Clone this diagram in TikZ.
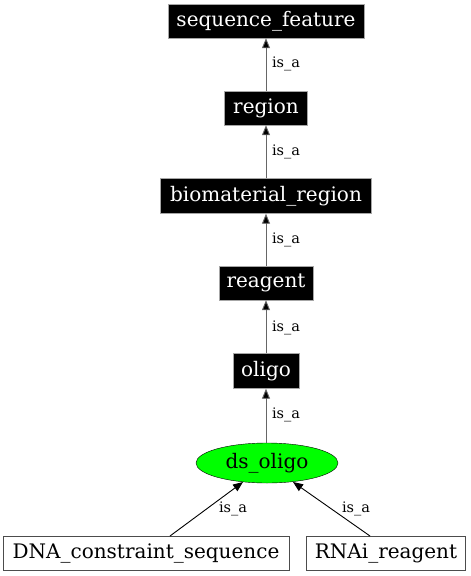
\documentclass[tikz,border=0pt]{standalone}
\usepackage{fontspec}
\setmainfont{DejaVu Serif}
\usetikzlibrary{shapes.geometric,arrows.meta}
\begin{document}
\begin{tikzpicture}[x=1pt,y=-1pt,
  term/.style={draw=gray!70,fill=black,text=white,rectangle,inner sep=0pt,font=\fontsize{20}{22}\selectfont},
  plain/.style={draw=black!70,fill=white,rectangle,inner sep=0pt,font=\fontsize{20}{22}\selectfont},
  focus/.style={draw=black,fill=green,ellipse,inner sep=0pt,minimum width=142pt,minimum height=40pt,font=\fontsize{20}{22}\selectfont},
  isa/.style={draw=black!60,line width=0.9pt,-{Triangle[length=10pt,width=8pt,fill=black]}},
  lbl/.style={font=\fontsize{14.5}{16}\selectfont,inner sep=0pt}]
\useasboundingbox (0,0) rectangle (471,576);
\node[term,minimum width=196pt,minimum height=34pt] (sf) at (266,21) {sequence\_feature};
\node[term,minimum width=83pt,minimum height=34pt] (rg) at (266,108) {region};
\node[term,minimum width=211pt,minimum height=35pt] (br) at (266,196) {biomaterial\_region};
\node[term,minimum width=94pt,minimum height=34pt] (re) at (266,283) {reagent};
\node[term,minimum width=66pt,minimum height=35pt] (ol) at (266,371) {oligo};
\node[focus] (ds) at (267,463) {ds\_oligo};
\node[plain,minimum width=286pt,minimum height=34pt] (dna) at (146,553) {DNA\_constraint\_sequence};
\node[plain,minimum width=159pt,minimum height=34pt] (rna) at (386,553) {RNAi\_reagent};
\draw[isa] (rg.north) -- (sf.south);
\draw[isa] (br.north) -- (rg.south);
\draw[isa] (re.north) -- (br.south);
\draw[isa] (ol.north) -- (re.south);
\draw[isa] (ds.north -| ol.south) -- (ol.south);
\coordinate (dnaTop) at (170,536);
\coordinate (rnaTop) at (370,536);
\coordinate (dsL) at (243,482);
\coordinate (dsR) at (293,482);
\draw[isa,draw=black] (dnaTop) -- (dsL);
\draw[isa,draw=black] (rnaTop) -- (dsR);
\node[lbl] (l1) at (286,64) {is\_a};
\node[lbl] (l2) at (286,152) {is\_a};
\node[lbl] (l3) at (286,240) {is\_a};
\node[lbl] (l4) at (286,328) {is\_a};
\node[lbl] (l5) at (286,415) {is\_a};
\node[lbl] (l6) at (233,509) {is\_a};
\node[lbl] (l7) at (356,509) {is\_a};
\end{tikzpicture}
\end{document}
